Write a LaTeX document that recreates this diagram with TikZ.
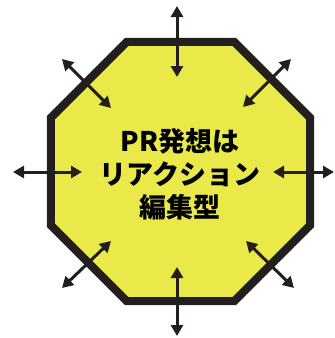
\documentclass[tikz,border=0pt]{standalone}
\usepackage{fontspec}
\newfontfamily\jp{Noto Sans CJK JP}
\usetikzlibrary{arrows.meta}
\definecolor{octfill}{RGB}{233,233,74}
\definecolor{octline}{RGB}{35,31,32}
\tikzset{
  octagon/.style={draw=octline, fill=octfill, line width=8pt, line join=miter},
  dblarrow/.style={draw=octline, line width=3pt,
    {Triangle[width=12pt,length=11pt]}-{Triangle[width=12pt,length=11pt]}},
  label/.style={font=\jp\bfseries\fontsize{27pt}{33pt}\selectfont, align=center, text=black}
}
\begin{document}
\begin{tikzpicture}[x=1pt,y=-1pt]
\useasboundingbox (0,0) rectangle (335,338);
% octagon
\draw[octagon] (234.2,41.8) -- (310.2,117.8) -- (310.2,225.2) -- (234.2,301.2)
  -- (126.8,301.2) -- (50.8,225.2) -- (50.8,117.8) -- (126.8,41.8) -- cycle;
\node[label] (txt) at (180,174) {PR発想は\\リアクション\\編集型};
% arrow end points
\coordinate (t1) at (177,6);   \coordinate (t2) at (177,77);
\coordinate (b1) at (177,267); \coordinate (b2) at (177,336);
\coordinate (l1) at (13,172);  \coordinate (l2) at (82,172);
\coordinate (r1) at (273,172); \coordinate (r2) at (334,172);
\coordinate (ul1) at (62,59);  \coordinate (ul2) at (111,108);
\coordinate (ur1) at (291,59); \coordinate (ur2) at (243,107);
\coordinate (ll1) at (62,288); \coordinate (ll2) at (111,241);
\coordinate (lr1) at (246,241);\coordinate (lr2) at (294,288);
\draw[dblarrow] (t1) -- (t2);
\draw[dblarrow] (b1) -- (b2);
\draw[dblarrow] (l1) -- (l2);
\draw[dblarrow] (r1) -- (r2);
\draw[dblarrow] (ul1) -- (ul2);
\draw[dblarrow] (ur1) -- (ur2);
\draw[dblarrow] (ll1) -- (ll2);
\draw[dblarrow] (lr1) -- (lr2);
\end{tikzpicture}
\end{document}
